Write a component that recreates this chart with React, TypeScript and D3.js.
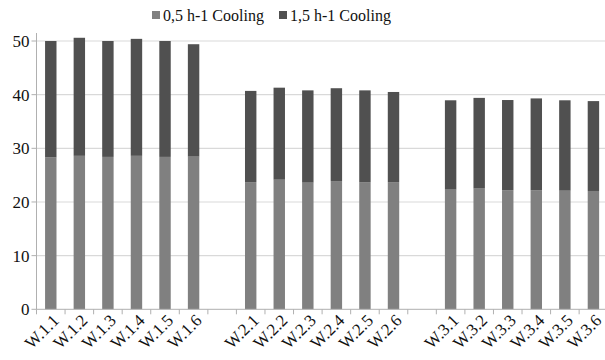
import React from "react";
import * as d3 from "d3";

const categories = [
  "W.1.1", "W.1.2", "W.1.3", "W.1.4", "W.1.5", "W.1.6", "",
  "W.2.1", "W.2.2", "W.2.3", "W.2.4", "W.2.5", "W.2.6", " ",
  "W.3.1", "W.3.2", "W.3.3", "W.3.4", "W.3.5", "W.3.6",
];
const series1Name = "0,5 h-1 Cooling";
const series2Name = "1,5 h-1 Cooling";
// lower segment (0,5 h-1)
const lowValues = [
  28.3, 28.6, 28.4, 28.6, 28.4, 28.45, null,
  23.7, 24.15, 23.6, 23.9, 23.7, 23.7, null,
  22.3, 22.5, 22.2, 22.2, 22.1, 22.05,
];
// totals (top of stacked bar)
const totalValues = [
  50.0, 50.6, 50.0, 50.4, 50.0, 49.4, null,
  40.7, 41.3, 40.8, 41.2, 40.8, 40.5, null,
  38.95, 39.4, 39.0, 39.3, 38.95, 38.8,
];
const yTicks = [0, 10, 20, 30, 40, 50];

const W = 605, H = 360;
const left = 36.5, right = 607.7, top = 33, bottom = 309.3;
const c1 = "#808080", c2 = "#505050";

export default function App() {
  const x = d3.scaleBand<number>().domain(d3.range(categories.length)).range([left, right]).paddingInner(0).paddingOuter(0);
  const y = d3.scaleLinear().domain([0, 50]).range([bottom, bottom - 5.366 * 50]);
  const bw = x.bandwidth() * 0.4;
  return (
    <svg width={W} height={H} className="chart" style={{ position: "absolute", left: 0, top: 0, background: "#fff" }}>
      <style>{`.chart text { font-family: "Liberation Serif", "DejaVu Serif", "Times New Roman", Times, serif; }`}</style>
      {yTicks.map((t) => (
        <g key={t}>
          {t > 0 && <line x1={left} x2={W} y1={y(t)} y2={y(t)} stroke="#d9d9d9" strokeWidth={1.2} />}
          <line x1={left - 5} x2={left} y1={y(t)} y2={y(t)} stroke="#b0b0b0" />
          <text x={left - 7} y={y(t)} dy="0.35em" textAnchor="end" fontSize={17} fill="#111">{t}</text>
        </g>
      ))}
      {categories.map((c, i) => {
        const lo = lowValues[i];
        const tot = totalValues[i];
        if (lo == null || tot == null) return null;
        const cx = (x(i) as number) + x.bandwidth() / 2;
        return (
          <g key={i}>
            <rect x={cx - bw / 2} width={bw} y={y(lo)} height={y(0) - y(lo)} fill={c1} />
            <rect x={cx - bw / 2} width={bw} y={y(tot)} height={y(lo) - y(tot)} fill={c2} />
          </g>
        );
      })}
      <line x1={left} x2={left} y1={top} y2={bottom} stroke="#b0b0b0" />
      <line x1={left} x2={W} y1={bottom} y2={bottom} stroke="#b0b0b0" />
      {d3.range(categories.length + 1).map((i) => {
        const xx = left + i * x.step();
        return <line key={i} x1={xx} x2={xx} y1={bottom} y2={bottom + 5} stroke="#b0b0b0" />;
      })}
      {categories.map((c, i) => {
        if (!c.trim()) return null;
        const cx = (x(i) as number) + x.bandwidth() / 2 + 5;
        return (
          <text key={i} transform={`translate(${cx},${bottom + 8}) rotate(-45)`} textAnchor="end" dy="0.35em" fontSize={17} fill="#111">{c}</text>
        );
      })}
      <g>
        <rect x={152} y={11} width={8} height={8} fill={c1} />
        <text x={163} y={15} dy="0.35em" fontSize={16} fill="#111">{series1Name}</text>
        <rect x={279} y={11} width={8} height={8} fill={c2} />
        <text x={290} y={15} dy="0.35em" fontSize={16} fill="#111">{series2Name}</text>
      </g>
    </svg>
  );
}
